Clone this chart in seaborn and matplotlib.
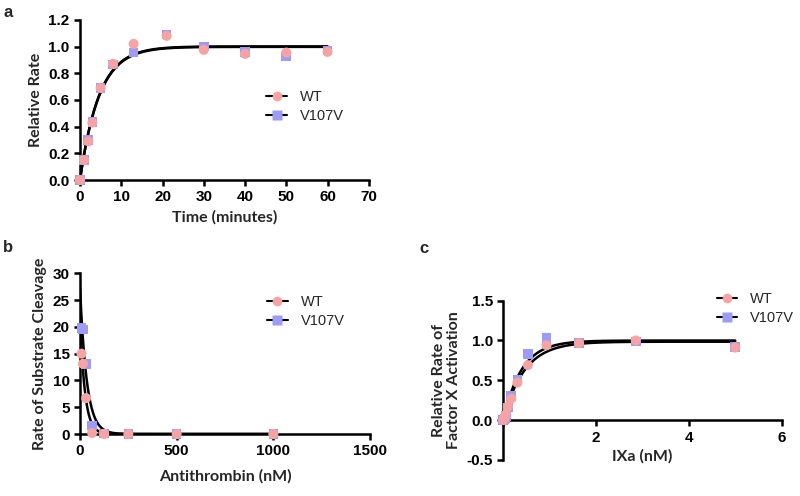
import numpy as np
import pandas as pd
import seaborn as sns
import matplotlib.pyplot as plt
from matplotlib.lines import Line2D

# panel a: time course
time_min = [0, 1, 2, 3, 5, 8, 13, 21, 30, 40, 50, 60]
a_wt = [0.0, 0.15, 0.29, 0.43, 0.69, 0.87, 1.02, 1.08, 0.975, 0.945, 0.955, 0.96]
a_v107v = [0.0, 0.15, 0.30, 0.435, 0.69, 0.865, 0.955, 1.09, 1.00, 0.96, 0.925, 0.97]

# panel b: antithrombin inhibition
at_nm = [7.8, 15.6, 31.25, 62.5, 125, 250, 500, 1000]
b_wt = [15.0, 13.1, 6.7, 0.2, 0.0, 0.0, 0.0, 0.0]
b_v107v = [19.8, 19.5, 13.1, 1.6, 0.1, 0.0, 0.0, 0.0]

# panel c: factor X activation
ixa_nm = [0, 0.0186, 0.0325, 0.057, 0.0995, 0.174, 0.305, 0.533, 0.933, 1.633, 2.857, 5.0]
c_wt = [0.0, 0.01, 0.04, 0.07, 0.17, 0.27, 0.47, 0.69, 0.94, 0.965, 1.0, 0.91]
c_v107v = [0.0, 0.01, 0.02, 0.05, 0.16, 0.30, 0.50, 0.83, 1.03, 0.97, 0.985, 0.915]

WT_COL = '#F7A3A3'
MUT_COL = '#9C9CF7'

sns.set_style('ticks')
plt.rcParams['font.family'] = ['Liberation Sans', 'DejaVu Sans']


def fit_exp(x, y, rise=True):
    # least squares fit of A*(1-exp(-kx)) or A*exp(-kx), grid search on k
    x = np.asarray(x, float)
    y = np.asarray(y, float)
    best = None
    for k in np.logspace(-4, 2, 3000):
        e = 1 - np.exp(-k * x) if rise else np.exp(-k * x)
        A = (y * e).sum() / (e * e).sum()
        sse = ((y - A * e) ** 2).sum()
        if best is None or sse < best[0]:
            best = (sse, A, k)
    return best[1], best[2]


def curve(x, y, xmax, rise=True):
    A, k = fit_exp(x, y, rise)
    xs = np.linspace(0, xmax, 600)
    ys = A * (1 - np.exp(-k * xs)) if rise else A * np.exp(-k * xs)
    return pd.DataFrame({'x': xs, 'y': ys})


def style_axis(ax):
    sns.despine(ax=ax)
    for s in ['left', 'bottom']:
        ax.spines[s].set_linewidth(1.8)
        ax.spines[s].set_color('black')
    ax.tick_params(width=1.8, length=4, colors='black', labelsize=11)
    for lab in ax.get_xticklabels() + ax.get_yticklabels():
        lab.set_fontweight('bold')


def draw(ax, x, ywt, ymut, xmax, rise=True):
    for yy in [ywt, ymut]:
        sns.lineplot(data=curve(x, yy, xmax, rise), x='x', y='y', ax=ax,
                     color='black', lw=1.8, zorder=2)
    sns.scatterplot(x=x, y=ymut, ax=ax, marker='s', color=MUT_COL, s=48,
                    edgecolor='none', zorder=3, clip_on=False)
    sns.scatterplot(x=x, y=ywt, ax=ax, marker='o', color=WT_COL, s=52,
                    edgecolor='none', zorder=4, clip_on=False)


def legend(ax, anchor):
    h = [Line2D([], [], color='black', lw=1.5, marker='o', markersize=7,
                markerfacecolor=WT_COL, markeredgecolor='none'),
         Line2D([], [], color='black', lw=1.5, marker='s', markersize=6.5,
                markerfacecolor=MUT_COL, markeredgecolor='none')]
    ax.legend(h, ['WT', 'V107V'], loc='center left', bbox_to_anchor=anchor,
              frameon=False, fontsize=10.5, handlelength=1.4, handletextpad=0.9,
              labelspacing=0.35)


lab_font = dict(family='Lato', fontweight='bold', fontsize=11.5)

fig = plt.figure(figsize=(8, 4.96), dpi=100)

# a
ax1 = fig.add_axes([0.1, 0.637, 0.361, 0.323])
draw(ax1, time_min, a_wt, a_v107v, 60)
ax1.set_xlim(0, 70)
ax1.set_ylim(0, 1.2)
ax1.set_xticks(range(0, 71, 10))
ax1.set_yticks(np.arange(0, 1.21, 0.2))
ax1.set_yticklabels([f'{v:.1f}' for v in np.arange(0, 1.21, 0.2)])
ax1.set_xlabel('Time (minutes)', **lab_font)
ax1.set_ylabel('Relative Rate', **lab_font)
style_axis(ax1)
legend(ax1, (0.6, 0.46))

# b
ax2 = fig.add_axes([0.1, 0.125, 0.3625, 0.324])
draw(ax2, at_nm, b_wt, b_v107v, 1000, rise=False)
ax2.set_xlim(0, 1500)
ax2.set_ylim(0, 30)
ax2.set_xticks([0, 500, 1000, 1500])
ax2.set_yticks(range(0, 31, 5))
ax2.set_xlabel('Antithrombin (nM)', labelpad=8, **lab_font)
ax2.set_ylabel('Rate of Substrate Cleavage', **lab_font)
style_axis(ax2)
legend(ax2, (0.6, 0.76))

# c
ax3 = fig.add_axes([0.629, 0.0726, 0.348, 0.3214])
draw(ax3, ixa_nm, c_wt, c_v107v, 5)
ax3.set_xlim(0, 6)
ax3.set_ylim(-0.5, 1.5)
ax3.spines['bottom'].set_position(('data', 0))
ax3.set_xticks([0, 2, 4, 6])
ax3.set_xticklabels(['', '2', '4', '6'])
ax3.set_yticks([-0.5, 0, 0.5, 1.0, 1.5])
ax3.set_yticklabels(['-0.5', '0.0', '0.5', '1.0', '1.5'])
ax3.set_xlabel('IXa (nM)', **lab_font)
ax3.xaxis.set_label_coords(0.5, 0.07)
ax3.set_ylabel('Relative Rate of\nFactor X Activation', linespacing=1.05, **lab_font)
style_axis(ax3)
legend(ax3, (0.72, 0.95))

for t, x, y in [('a', 0.004, 0.975), ('b', 0.004, 0.502), ('c', 0.524, 0.499)]:
    fig.text(x, y, t, fontsize=12, fontweight='bold', va='center')

fig.savefig('out.png', dpi=100)
